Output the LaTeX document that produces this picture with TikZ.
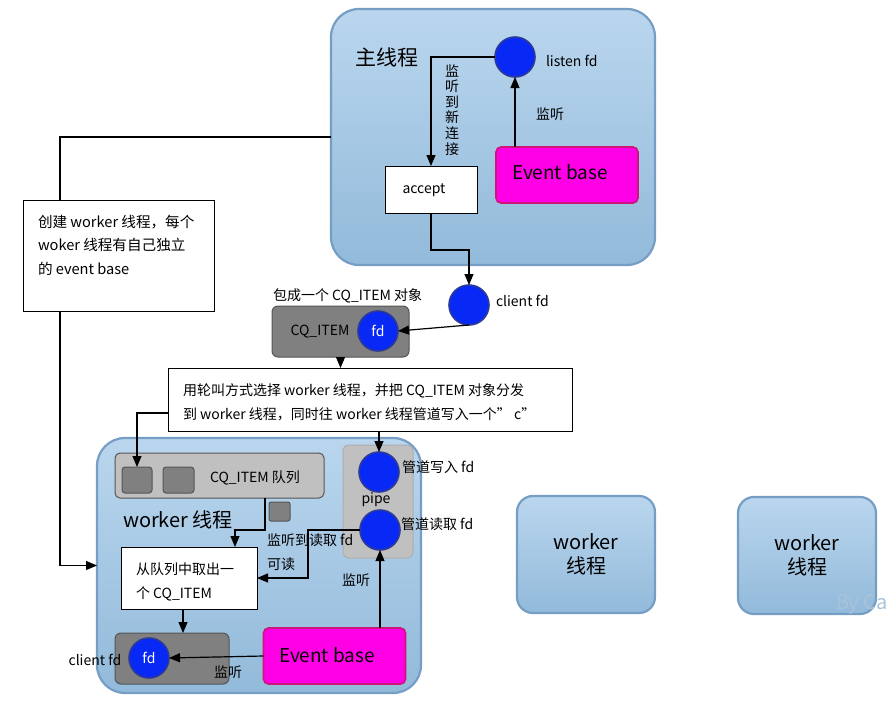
\documentclass[tikz,border=0pt]{standalone}
\usepackage{fontspec}
\setmainfont{Noto Sans CJK SC}
\usetikzlibrary{arrows.meta}
\definecolor{tborder}{RGB}{118,158,196}
\definecolor{ttop}{RGB}{186,214,238}
\definecolor{tbot}{RGB}{146,186,218}
\definecolor{cfill}{RGB}{8,40,245}
\definecolor{cborder}{RGB}{45,58,150}
\definecolor{mag}{RGB}{255,0,230}
\definecolor{magb}{RGB}{205,20,120}
\definecolor{dgray}{RGB}{128,128,128}
\definecolor{lgray}{RGB}{192,192,192}
\definecolor{gborder}{RGB}{85,85,85}
\definecolor{wmark}{RGB}{170,194,218}
\begin{document}
\begin{tikzpicture}[x=1pt,y=-1pt,
  every node/.style={inner sep=0pt, outer sep=0pt, font=\fontsize{14}{16}\selectfont},
  thread/.style={draw=tborder, line width=2.2pt, top color=ttop, bottom color=tbot, rounded corners=28pt},
  smallthread/.style={draw=tborder, line width=2.2pt, top color=ttop, bottom color=tbot, rounded corners=16pt, minimum width=138pt, minimum height=117pt, align=center, font=\fontsize{20}{24}\selectfont},
  fdc/.style={circle, draw=cborder, line width=1.6pt, fill=cfill, minimum size=40pt, text=white},
  evbase/.style={draw=magb, line width=1.6pt, fill=mag, rounded corners=5pt, minimum width=142pt, minimum height=56pt, font=\fontsize{19}{22}\selectfont},
  wbox/.style={draw=black, line width=1pt, fill=white},
  gbox/.style={draw=gborder, line width=1pt, fill=dgray, rounded corners=6pt},
  arr/.style={line width=1.2pt, -{Triangle[length=11pt,width=9pt]}},
  lbl/.style={anchor=base west, align=left}
]
\useasboundingbox (0,0) rectangle (895,704);

% ---------- main thread ----------
\node[thread, minimum width=324pt, minimum height=256pt] (mainbox) at (493,137) {};
\node[font=\fontsize{21}{24}\selectfont] (mainlbl) at (387,57) {主线程};
\node[fdc] (listen) at (515,57) {};
\node[anchor=west] (listenlbl) at (546,61) {listen fd};
\node[wbox, minimum width=92pt, minimum height=47pt] (accept) at (431,189.5) {};
\node (accepttxt) at (424,190) {accept};
\node[evbase] (ebmain) at (567,175) {};
\node[font=\fontsize{19}{22}\selectfont] (ebmaintxt) at (560,172) {Event base};
\node (newconn) at (452,110) {\fontsize{14}{15}\selectfont\shortstack{监\\听\\到\\新\\连\\接}};
\node (mainlisten) at (550,114) {监听};

\draw[arr] (listen.west) -| (accept.north);
\draw[arr] (ebmain.north -| listen) -- (listen.south);

% ---------- client fd ----------
\node[fdc] (client) at (469,305) {};
\node[anchor=west] (clientlbl) at (496,301) {client fd};
\draw[arr] (accept.south) -- ++(0,37) -| (client.north);

% ---------- left create line + note ----------
\node[thread, minimum width=324pt, minimum height=255pt] (worker) at (259,565.5) {};
\draw[arr] (mainbox.west) -- ++(-271,0) |- (worker.west);
\node[wbox, minimum width=191pt, minimum height=111pt] (note) at (118.5,255.5) {};
\node[lbl, font=\fontsize{14.6}{23.5}\selectfont] (notetxt) at (38,274) {创建 worker 线程，每个\\woker 线程有自己独立\\的 event base};

% ---------- CQ_ITEM ----------
\node[anchor=west] (wraplbl) at (273,296) {包成一个 CQ\_ITEM 对象};
\node[gbox, minimum width=137pt, minimum height=51pt] (cqbox) at (340.5,331.5) {};
\node (cqtxt) at (320,332) {CQ\_ITEM};
\node[fdc] (cqfd) at (378,331) {fd};
\draw[arr] (client.south) -- (cqfd.east);

% ---------- dispatch box ----------
\node[wbox, minimum width=404pt, minimum height=63pt] (dispatch) at (370,399.5) {};
\node[lbl, font=\fontsize{14}{24}\selectfont] (disptxt) at (183,419) {用轮叫方式选择 worker 线程，并把 CQ\_ITEM 对象分发\\到 worker 线程，同时往 worker 线程管道写入一个” c”};
\draw[arr] (cqbox.south) -- (cqbox.south |- dispatch.north);

% ---------- worker thread contents ----------
\node[draw=gborder, line width=1pt, fill=lgray, rounded corners=5pt, minimum width=209pt, minimum height=45pt] (queue) at (219.5,475.5) {};
\node[gbox, rounded corners=3pt, minimum width=30pt, minimum height=26pt] (q1) at (137,480) {};
\node[gbox, rounded corners=3pt, minimum width=31pt, minimum height=26pt] (q2) at (178.5,480) {};
\node (queuetxt) at (255,478) {CQ\_ITEM 队列};
\node[gbox, rounded corners=2pt, minimum width=21pt, minimum height=19pt] (q3) at (279.5,511.5) {};
\node[font=\fontsize{20}{24}\selectfont] (workerlbl) at (178,520) {worker 线程};

\draw[arr] ([yshift=-13.5pt]dispatch.west) -| (q1.north);

\node[draw=lgray!70!gray, line width=1pt, fill=lgray, rounded corners=6pt, minimum width=70pt, minimum height=113pt] (pipe) at (378,501.5) {};
\node[fdc] (pwrite) at (379,472) {};
\node[anchor=west] (pwritelbl) at (402,467) {管道写入 fd};
\node (pipelbl) at (376,500) {pipe};
\node[fdc] (pread) at (380,530) {};
\node[anchor=west] (preadlbl) at (401,524) {管道读取 fd};
\draw[arr] (dispatch.south -| pwrite) -- (pwrite.north);

\node[wbox, minimum width=136pt, minimum height=62pt] (take) at (189,578) {};
\node[lbl, font=\fontsize{14}{24}\selectfont] (taketxt) at (136,598) {从队列中取出一\\个 CQ\_ITEM};
\draw[arr] ([xshift=45.5pt]queue.south) -- ++(0,32) -| ([xshift=46pt]take.north);

\draw[arr] (pread.west) -- ++(-52,0) |- (take.east);
\node[anchor=west] (readlbl) at (267,540) {监听到读取 fd};
\node[anchor=west] (readable) at (267,564) {可读};

\node[evbase] (ebw) at (334.5,656) {};
\node[font=\fontsize{19}{22}\selectfont] (ebwtxt) at (327,655) {Event base};
\draw[arr] (ebw.north -| pread) -- (pread.south);
\node (wlisten1) at (356,580) {监听};

\node[gbox, minimum width=114pt, minimum height=51pt] (cbox) at (172,658.5) {};
\node[fdc] (cfd) at (149,658) {fd};
\node (cfdlbl) at (95,660) {client fd};
\draw[arr] (ebw.west) -- (cfd.east);
\node (wlisten2) at (228,672) {监听};
\draw[arr] ([xshift=-6pt]take.south) -- ([xshift=-6pt]take.south |- cbox.north);

% ---------- other workers ----------
\node[smallthread] (worker2) at (586,554.5) {worker\\线程};
\node[smallthread] (worker3) at (807,555.5) {worker\\线程};
\node[anchor=west, text=wmark, font=\fontsize{20}{24}\selectfont] (bywm) at (836,604) {By Ca};
\end{tikzpicture}
\end{document}
